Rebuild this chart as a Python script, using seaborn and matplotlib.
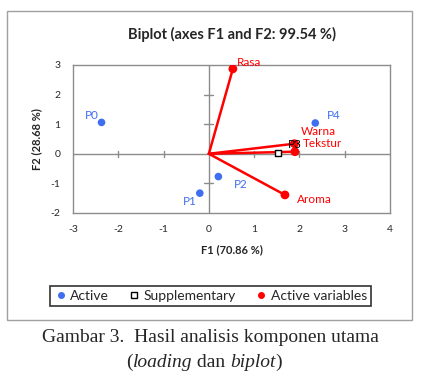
import matplotlib
matplotlib.use("Agg")
import matplotlib.pyplot as plt
import seaborn as sns
import pandas as pd
from matplotlib.lines import Line2D
from matplotlib.patches import Rectangle

# observations (active)
obs_names = ["P0", "P1", "P2", "P4"]
obs_f1 = [-2.37, -0.20, 0.21, 2.35]
obs_f2 = [1.06, -1.33, -0.77, 1.04]

# supplementary observation
sup_names = ["P3"]
sup_f1 = [1.52]
sup_f2 = [0.01]

# active variables
var_names = ["Rasa", "Warna", "Tekstur", "Aroma"]
var_f1 = [0.53, 1.89, 1.90, 1.68]
var_f2 = [2.87, 0.34, 0.07, -1.39]

BLUE = "#3f6ff0"
RED = "#ff0000"
GRAY = "#8c8c8c"

sns.set_style("white")
plt.rcParams["font.family"] = ["Lato", "DejaVu Sans"]
plt.rcParams["axes.unicode_minus"] = False

obs = pd.DataFrame({"name": obs_names, "F1": obs_f1, "F2": obs_f2})
sup = pd.DataFrame({"name": sup_names, "F1": sup_f1, "F2": sup_f2})
var = pd.DataFrame({"name": var_names, "F1": var_f1, "F2": var_f2})

fig = plt.figure(figsize=(4.33, 3.85), dpi=100)
ax = fig.add_axes([0.1686, 0.4468, 0.7321, 0.3844])

# outer frame
fig.patches.append(Rectangle((0.016, 0.169), 0.935, 0.802, transform=fig.transFigure,
                             fill=False, edgecolor="#a0a0a0", linewidth=1.0))

# axis cross
ax.axhline(0, color=GRAY, linewidth=1, zorder=1)
ax.axvline(0, color=GRAY, linewidth=1, zorder=1)
for t in [-2, -1, 1, 2, 3]:
    ax.plot([t, t], [-0.1, 0.1], color=GRAY, linewidth=1, zorder=1)
for t in [-1, 1, 2]:
    ax.plot([-0.1, 0.1], [t, t], color=GRAY, linewidth=1, zorder=1)

# variable vectors
for _, r in var.iterrows():
    ax.plot([0, r["F1"]], [0, r["F2"]], color=RED, linewidth=1.8, zorder=2)

sns.scatterplot(data=obs, x="F1", y="F2", color=BLUE, s=30, edgecolor="none", ax=ax, zorder=3)
sns.scatterplot(data=sup, x="F1", y="F2", color="white", marker="s", s=22,
                edgecolor="black", linewidth=1, ax=ax, zorder=3)
sns.scatterplot(data=var, x="F1", y="F2", color=RED, s=40, edgecolor="none", ax=ax, zorder=4)

# labels
fs_lab = 8.5
obs_off = {"P0": (-0.22, 0.25), "P1": (-0.23, -0.27), "P2": (0.5, -0.27), "P4": (0.4, 0.25)}
for _, r in obs.iterrows():
    dx, dy = obs_off[r["name"]]
    ax.text(r["F1"] + dx, r["F2"] + dy, r["name"], color=BLUE, fontsize=fs_lab,
            ha="center", va="center", zorder=5)
for _, r in sup.iterrows():
    ax.text(r["F1"] + 0.38, r["F2"] + 0.3, r["name"], color="black", fontsize=fs_lab,
            ha="center", va="center", zorder=5)
var_off = {"Rasa": (0.35, 0.2), "Warna": (0.52, 0.4), "Tekstur": (0.62, 0.28), "Aroma": (0.65, -0.15)}
for _, r in var.iterrows():
    dx, dy = var_off[r["name"]]
    ax.text(r["F1"] + dx, r["F2"] + dy, r["name"], color=RED, fontsize=fs_lab,
            ha="center", va="center", zorder=5)

ax.set_xlim(-3, 4)
ax.set_ylim(-2, 3)
ax.set_xticks(range(-3, 5))
ax.set_yticks(range(-2, 4))
ax.tick_params(axis="both", length=0, labelsize=7.5, pad=9)
for s in ax.spines.values():
    s.set_color(GRAY)
    s.set_linewidth(1)
ax.set_xlabel("F1 (70.86 %)", fontsize=8, fontweight="bold", labelpad=7)
ax.set_ylabel("F2 (28.68 %)", fontsize=8, fontweight="bold", labelpad=6)
ax.set_title("Biplot (axes F1 and F2: 99.54 %)", fontsize=10.5, fontweight="bold", pad=19)

handles = [
    Line2D([], [], marker="o", linestyle="none", markersize=4, color=BLUE, label="Active"),
    Line2D([], [], marker="s", linestyle="none", markersize=4, markerfacecolor="white",
           markeredgecolor="black", label="Supplementary"),
    Line2D([], [], marker="o", linestyle="none", markersize=4, color=RED, label="Active variables"),
]
leg = fig.legend(handles=handles, loc="center", bbox_to_anchor=(0.486, 0.232), ncol=3,
                 fontsize=10, frameon=True, fancybox=False, handletextpad=0.2,
                 columnspacing=1.3, borderpad=0.3, handlelength=1.0, borderaxespad=0)
leg.get_frame().set_edgecolor("black")
leg.get_frame().set_linewidth(1.2)

# caption
fig.text(0.486, 0.123, "Gambar 3.  Hasil analisis komponen utama", fontsize=14,
         family="Liberation Serif", ha="center", va="center")
cap = fig.text(0.292, 0.058, "(", fontsize=14, family="Liberation Serif", ha="left", va="center")
parts = [("loading", "italic"), (" dan ", "normal"), ("biplot", "italic"), (")", "normal")]
fig.canvas.draw()
renderer = fig.canvas.get_renderer()
prev = cap
for txt, st in parts:
    bb = prev.get_window_extent(renderer)
    x = bb.x1 / fig.bbox.width
    prev = fig.text(x, 0.058, txt, fontsize=14, family="Liberation Serif", style=st,
                    ha="left", va="center")

fig.savefig("out.png", dpi=100)
